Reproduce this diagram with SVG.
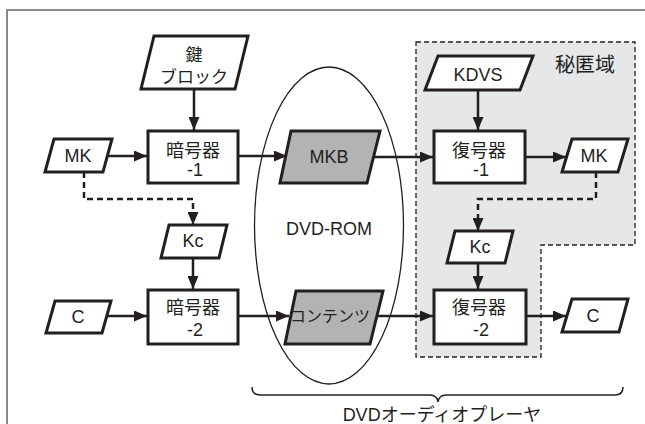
<svg xmlns="http://www.w3.org/2000/svg" width="645" height="424" viewBox="0 0 645 424">
<style>
text{font-family:"Liberation Sans","Noto Sans CJK JP",sans-serif;font-size:18px;fill:#231f20;text-anchor:middle}
.box{fill:#fff;stroke:#231f20;stroke-width:3}
.gray{fill:#b3b3b3;stroke:#231f20;stroke-width:3}
.arr{fill:none;stroke:#231f20;stroke-width:2.5;marker-end:url(#ah)}
.dash{fill:none;stroke:#231f20;stroke-width:2.5;stroke-dasharray:6 4}
.dasharr{fill:none;stroke:#231f20;stroke-width:2.5;stroke-dasharray:6 4;marker-end:url(#ah)}
</style>
<defs>
<marker id="ah" markerUnits="userSpaceOnUse" markerWidth="14" markerHeight="11" refX="13" refY="5.5" orient="auto">
<path d="M0,0 L13,5.5 L0,11 z" fill="#231f20"/>
</marker>
</defs>
<rect width="645" height="424" fill="#fff"/>
<rect x="7" y="10" width="700" height="500" fill="none" stroke="#6d6e70" stroke-width="1.6"/>
<g id="secret-domain">
<path d="M416,42 H635 V245 H541 V357 H416 Z" fill="#e6e7e8" stroke="#231f20" stroke-width="1.3" stroke-dasharray="5 3"/>
<text x="585" y="72" style="font-size:20px">秘匿域</text>
</g>
<g id="dvd-rom">
<ellipse cx="329" cy="225.5" rx="74.5" ry="158.5" fill="none" stroke="#231f20" stroke-width="1.3"/>
<text x="329" y="235">DVD-ROM</text>
</g>
<g id="player-brace">
<path d="M252,387 Q252,395 260,395 H430 Q437,395 438,402 Q439,395 446,395 H615 Q623,395 623,387" fill="none" stroke="#231f20" stroke-width="1.5"/>
<text x="442" y="421">DVDオーディオプレーヤ</text>
</g>
<g id="connectors">
<path class="arr" d="M194,89 V130"/>
<path class="arr" d="M105,156 H147"/>
<path class="arr" d="M238,156 H287"/>
<path class="dasharr" d="M84,172 V199 H193 V225"/>
<path class="arr" d="M193,258 V289"/>
<path class="arr" d="M103,316 H147"/>
<path class="arr" d="M238,316 H289"/>
<path class="arr" d="M478,90 V130"/>
<path class="arr" d="M374,157 H433"/>
<path class="arr" d="M525,157 H566"/>
<path class="dasharr" d="M596,172 V199 H478 V231"/>
<path class="arr" d="M478,263 V289"/>
<path class="arr" d="M377,316 H433"/>
<path class="arr" d="M526,316 H566"/>
</g>
<g id="key-block">
<polygon class="box" points="154,36 248,36 235,89 141,89"/>
<text x="194" y="61" style="font-size:17px">鍵</text>
<text x="194" y="83" style="font-size:17px">ブロック</text>
</g>
<g id="mk-left">
<polygon class="box" points="54,139 112,139 103,172 45,172"/>
<text x="78" y="162">MK</text>
</g>
<g id="encoder-1">
<rect class="box" x="148" y="131" width="90" height="52"/>
<text x="193" y="156.5">暗号器</text>
<text x="195" y="175.5">-1</text>
</g>
<g id="mkb">
<polygon class="gray" points="291,131 380,131 367,183 280,183"/>
<text x="329" y="163">MKB</text>
</g>
<g id="kc-left">
<polygon class="box" points="169,225 227,225 219,258 161,258"/>
<text x="193" y="247">Kc</text>
</g>
<g id="c-left">
<polygon class="box" points="55,301 111,301 102,333 46,333"/>
<text x="78" y="323">C</text>
</g>
<g id="encoder-2">
<rect class="box" x="148" y="290" width="90" height="54"/>
<text x="193" y="314">暗号器</text>
<text x="195" y="336">-2</text>
</g>
<g id="contents">
<polygon class="gray" points="296,291 383,291 370,344 285,344"/>
<text x="330" y="322" style="font-size:16px">コンテンツ</text>
</g>
<g id="kdvs">
<polygon class="box" points="438,56 533,56 520,90 425,90"/>
<text x="478" y="81">KDVS</text>
</g>
<g id="decoder-1">
<rect class="box" x="434" y="131" width="91" height="52"/>
<text x="479" y="156.5">復号器</text>
<text x="481" y="175.5">-1</text>
</g>
<g id="mk-right">
<polygon class="box" points="572,139 628,139 618,172 562,172"/>
<text x="594" y="162">MK</text>
</g>
<g id="kc-right">
<polygon class="box" points="455,231 513,231 505,263 447,263"/>
<text x="480" y="253">Kc</text>
</g>
<g id="decoder-2">
<rect class="box" x="434" y="290" width="92" height="54"/>
<text x="479" y="314">復号器</text>
<text x="481" y="336">-2</text>
</g>
<g id="c-right">
<polygon class="box" points="572,299 628,299 619,332 562,332"/>
<text x="593" y="322">C</text>
</g>
</svg>
